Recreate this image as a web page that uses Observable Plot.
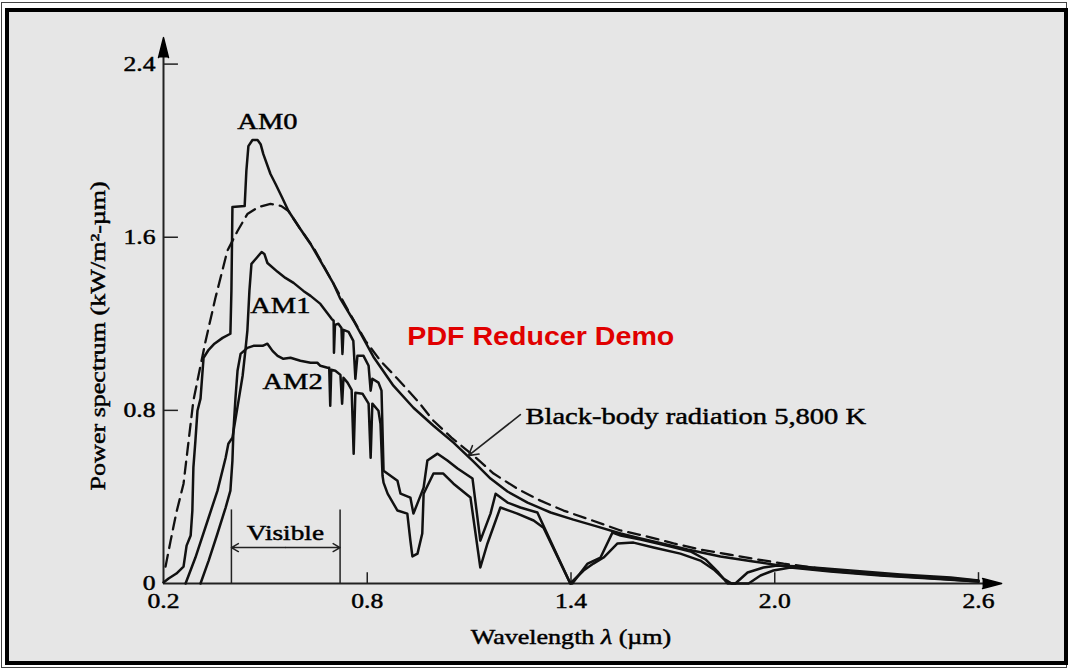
<!DOCTYPE html>
<html><head><meta charset="utf-8">
<script src="https://cdn.jsdelivr.net/npm/d3@7"></script>
<script src="https://cdn.jsdelivr.net/npm/@observablehq/plot@0.6"></script>
<style>
html,body{margin:0;padding:0;background:#fff;}
#wrap{position:relative;width:1068px;height:669px;overflow:hidden;background:#fff;}
#outer{position:absolute;left:1px;top:2px;width:1066px;height:666px;border:1px solid #444;box-sizing:border-box;}
#inner{position:absolute;left:5px;top:8px;width:1063px;height:657px;border:4px solid #000;box-sizing:border-box;background:#e6e6e6;}
#chart{position:absolute;left:0;top:0;}
</style></head><body>
<div id="wrap"><div id="outer"></div><div id="inner"></div><div id="chart"></div></div>
<script>
// Wavelength (µm), power spectrum (kW/m²-µm) pairs
const am0 = [[0.200,0.005],[0.215,0.023],[0.238,0.046],[0.259,0.078],[0.268,0.175],[0.280,0.222],[0.285,0.337],[0.288,0.535],[0.294,0.660],[0.300,0.798],[0.309,0.854],[0.318,1.043],[0.333,1.080],[0.350,1.108],[0.374,1.135],[0.397,1.154],[0.400,1.352],[0.403,1.740],[0.439,1.744],[0.444,1.906],[0.450,2.021],[0.462,2.049],[0.477,2.049],[0.486,2.030],[0.494,1.984],[0.515,1.892],[0.530,1.846],[0.550,1.781],[0.568,1.721],[0.603,1.638],[0.633,1.569],[0.662,1.491],[0.701,1.384],[0.721,1.315],[0.760,1.214],[0.818,1.048],[0.877,0.914],[0.936,0.812],[0.995,0.729],[1.054,0.651],[1.113,0.563],[1.163,0.485],[1.213,0.425],[1.272,0.374],[1.340,0.328],[1.407,0.295],[1.478,0.263],[1.546,0.231],[1.605,0.208],[1.643,0.194],[1.743,0.157],[1.840,0.125],[1.937,0.102],[2.037,0.078],[2.185,0.055],[2.332,0.037],[2.479,0.023],[2.600,0.009]];
const blackBody = [[0.206,0.078],[0.221,0.198],[0.238,0.328],[0.259,0.461],[0.274,0.660],[0.288,0.845],[0.306,0.983],[0.324,1.121],[0.353,1.320],[0.388,1.537],[0.418,1.629],[0.447,1.707],[0.480,1.740],[0.515,1.754],[0.547,1.744],[0.568,1.721],[0.603,1.638],[0.642,1.551],[0.701,1.384],[0.751,1.241],[0.795,1.121],[0.839,1.029],[0.889,0.946],[0.948,0.844],[0.995,0.752],[1.048,0.674],[1.113,0.591],[1.172,0.508],[1.242,0.438],[1.310,0.383],[1.378,0.337],[1.463,0.291],[1.546,0.245],[1.625,0.217],[1.702,0.185],[1.781,0.157],[1.864,0.134],[1.949,0.111],[2.026,0.092],[2.135,0.069],[2.282,0.046],[2.429,0.028],[2.600,0.014]];
const am1 = [[0.265,0.000],[0.294,0.120],[0.333,0.305],[0.359,0.429],[0.383,0.581],[0.391,0.646],[0.403,0.674],[0.421,0.845],[0.433,0.960],[0.441,1.075],[0.447,1.168],[0.453,1.352],[0.459,1.477],[0.474,1.504],[0.489,1.532],[0.497,1.523],[0.506,1.481],[0.536,1.440],[0.559,1.412],[0.583,1.389],[0.612,1.352],[0.633,1.329],[0.662,1.292],[0.695,1.223],[0.701,1.214],[0.702,1.066],[0.705,1.195],[0.715,1.200],[0.724,1.181],[0.727,1.061],[0.730,1.172],[0.745,1.163],[0.759,1.121],[0.765,0.946],[0.771,1.052],[0.789,1.052],[0.804,1.006],[0.810,0.891],[0.815,0.946],[0.833,0.928],[0.842,0.891],[0.848,0.521],[0.889,0.475],[0.898,0.415],[0.927,0.397],[0.936,0.323],[0.951,0.383],[0.966,0.443],[0.977,0.568],[1.007,0.600],[1.036,0.568],[1.066,0.531],[1.110,0.485],[1.133,0.198],[1.163,0.323],[1.178,0.415],[1.213,0.374],[1.251,0.351],[1.301,0.328],[1.348,0.168],[1.398,0.000],[1.404,0.000],[1.449,0.092],[1.487,0.120],[1.522,0.235],[1.546,0.222],[1.605,0.203],[1.693,0.171],[1.752,0.148],[1.796,0.111],[1.834,0.051],[1.861,0.000],[1.884,0.000],[1.920,0.051],[1.967,0.074],[2.008,0.083],[2.076,0.078],[2.223,0.060],[2.370,0.042],[2.518,0.028],[2.600,0.014]];
const am2 = [[0.309,0.000],[0.333,0.106],[0.359,0.231],[0.383,0.351],[0.397,0.429],[0.403,0.568],[0.406,0.706],[0.412,0.858],[0.418,0.983],[0.427,1.061],[0.447,1.089],[0.465,1.098],[0.492,1.098],[0.506,1.108],[0.521,1.075],[0.536,1.052],[0.553,1.038],[0.574,1.043],[0.603,1.029],[0.633,1.020],[0.653,1.020],[0.662,1.006],[0.683,0.997],[0.688,0.997],[0.691,0.821],[0.694,0.988],[0.706,0.983],[0.721,0.964],[0.726,0.831],[0.730,0.951],[0.742,0.928],[0.754,0.895],[0.760,0.600],[0.765,0.881],[0.786,0.877],[0.804,0.831],[0.810,0.581],[0.815,0.831],[0.833,0.798],[0.839,0.738],[0.845,0.498],[0.848,0.466],[0.860,0.415],[0.889,0.337],[0.918,0.323],[0.927,0.198],[0.933,0.125],[0.948,0.138],[0.962,0.231],[0.966,0.415],[0.995,0.508],[1.024,0.508],[1.054,0.461],[1.104,0.397],[1.133,0.074],[1.154,0.185],[1.192,0.351],[1.242,0.323],[1.290,0.291],[1.319,0.258],[1.398,0.000],[1.437,0.060],[1.466,0.092],[1.496,0.120],[1.537,0.185],[1.584,0.189],[1.643,0.166],[1.722,0.138],[1.781,0.106],[1.820,0.065],[1.849,0.023],[1.873,0.000],[1.923,0.000],[1.958,0.037],[1.996,0.060],[2.046,0.074],[2.164,0.055],[2.311,0.037],[2.459,0.023],[2.600,0.009]];

const xTicks = [0.2, 0.8, 1.4, 2.0, 2.6];
const yTicks = [0, 0.8, 1.6, 2.4];
const visibleRange = [0.4, 0.72];
const serif = "'Liberation Serif', 'Times New Roman', serif";

const curve = (data, opts = {}) => Plot.line(data, {x: d => d[0], y: d => d[1], stroke: "#111", strokeWidth: 2.5, strokeLinejoin: "round", ...opts});

const chart = Plot.plot({
  width: 1068, height: 669,
  marginLeft: 163, marginRight: 90, marginTop: 63.6, marginBottom: 86,
  style: {background: "transparent", fontFamily: serif, fontSize: "20px", color: "#000", overflow: "visible"},
  x: {domain: [0.2, 2.6]},
  y: {domain: [0, 2.4]},
  marks: [
    Plot.axisX({ticks: xTicks, tickSize: 0, tickPadding: 10, tickFormat: d => d.toFixed(1), label: null, fontSize: 20}),
    Plot.axisY({ticks: yTicks, tickSize: 0, tickPadding: 8, tickFormat: d => d === 0 ? "0" : d.toFixed(1), label: null, fontSize: 20}),
    // axis lines and arrowheads
    Plot.ruleY([0], {x1: 0.2, x2: 2.615, stroke: "#222", strokeWidth: 2.2}),
    Plot.ruleX([0.2], {y1: 0, y2: 2.44, stroke: "#222", strokeWidth: 2}),
    Plot.vector([0], {x: 0.2, y: 2.43, length: 20, rotate: 0, shape: "spike", r: 5, anchor: "start", fill: "#000", stroke: "#000"}),
    Plot.vector([0], {x: 2.612, y: 0, length: 19, rotate: 90, shape: "spike", r: 5, anchor: "start", fill: "#000", stroke: "#000"}),
    // inside ticks
    Plot.ruleY(yTicks.filter(d => d > 0), {x1: 0.2, x2: 0.244, stroke: "#222", strokeWidth: 1.5}),
    Plot.ruleX(xTicks.filter(d => d > 0.2), {y1: 0, y2: 0.05, stroke: "#222", strokeWidth: 1.5}),
    // visible bracket
    Plot.ruleX(visibleRange, {y1: 0, y2: 0.34, stroke: "#222", strokeWidth: 1.5}),
    Plot.arrow([0], {x1: 0.56, x2: visibleRange[0], y1: 0.166, y2: 0.166, headLength: 8, strokeWidth: 1.5, stroke: "#222"}),
    Plot.arrow([0], {x1: 0.56, x2: visibleRange[1], y1: 0.166, y2: 0.166, headLength: 8, strokeWidth: 1.5, stroke: "#222"}),
    Plot.text(["Visible"], {x: 0.559, y: 0.235, fontSize: 22}),
    // curves
    curve(blackBody, {strokeDasharray: "12,7", strokeWidth: 2.3}),
    curve(am2),
    curve(am1),
    curve(am0),
    // labels
    Plot.text(["AM0"], {x: 0.506, y: 2.136, fontSize: 23}),
    Plot.text(["AM1"], {x: 0.544, y: 1.283, fontSize: 23}),
    Plot.text(["AM2"], {x: 0.580, y: 0.932, fontSize: 23}),
    Plot.text(["Black-body radiation 5,800 K"], {x: 1.266, y: 0.771, fontSize: 23, textAnchor: "start"}),
    Plot.arrow([0], {x1: 1.251, y1: 0.780, x2: 1.098, y2: 0.591, headLength: 10, strokeWidth: 1.6, stroke: "#222"}),
    Plot.text(["PDF Reducer Demo"], {x: 0.918, y: 1.140, fontSize: 26, fontWeight: "bold", fontFamily: "'Liberation Sans', Arial, sans-serif", fill: "#e00000", textAnchor: "start"}),
    // axis titles
    Plot.text(["Wavelength λ (µm)"], {frameAnchor: "bottom", dy: 54, fontSize: 21, lineAnchor: "middle", textAnchor: "middle"}),
    Plot.text(["Power spectrum (kW/m²-µm)"], {frameAnchor: "left", dx: -65, dy: 12, rotate: -90, fontSize: 21, textAnchor: "middle", lineAnchor: "middle"})
  ]
});
document.getElementById("chart").appendChild(chart);

// italic lambda
d3.select(chart).selectAll("text").each(function() {
  if (this.textContent === "Wavelength λ (µm)") {
    const sel = d3.select(this);
    sel.text(null);
    sel.append("tspan").text("Wavelength ");
    sel.append("tspan").attr("font-style", "italic").text("λ");
    sel.append("tspan").text(" (µm)");
  }
});
// horizontal widening and heavier strokes of the scanned lettering
d3.select(chart).selectAll("text").each(function() {
  const isRed = this.getAttribute("fill") === "#e00000" || (this.parentNode && this.parentNode.getAttribute && this.parentNode.getAttribute("fill") === "#e00000");
  const t = this.textContent;
  const isTick = /^[0-9.]+$/.test(t);
  const k = isRed ? 1.1 : isTick ? 1.28 : 1.24;
  const len = this.getComputedTextLength();
  if (len > 0) {
    this.setAttribute("textLength", (len * k).toFixed(1));
    this.setAttribute("lengthAdjust", "spacingAndGlyphs");
  }
  if (!isRed) {
    this.style.stroke = "#000";
    this.style.strokeWidth = "0.45px";
  }
});
</script></body></html>
